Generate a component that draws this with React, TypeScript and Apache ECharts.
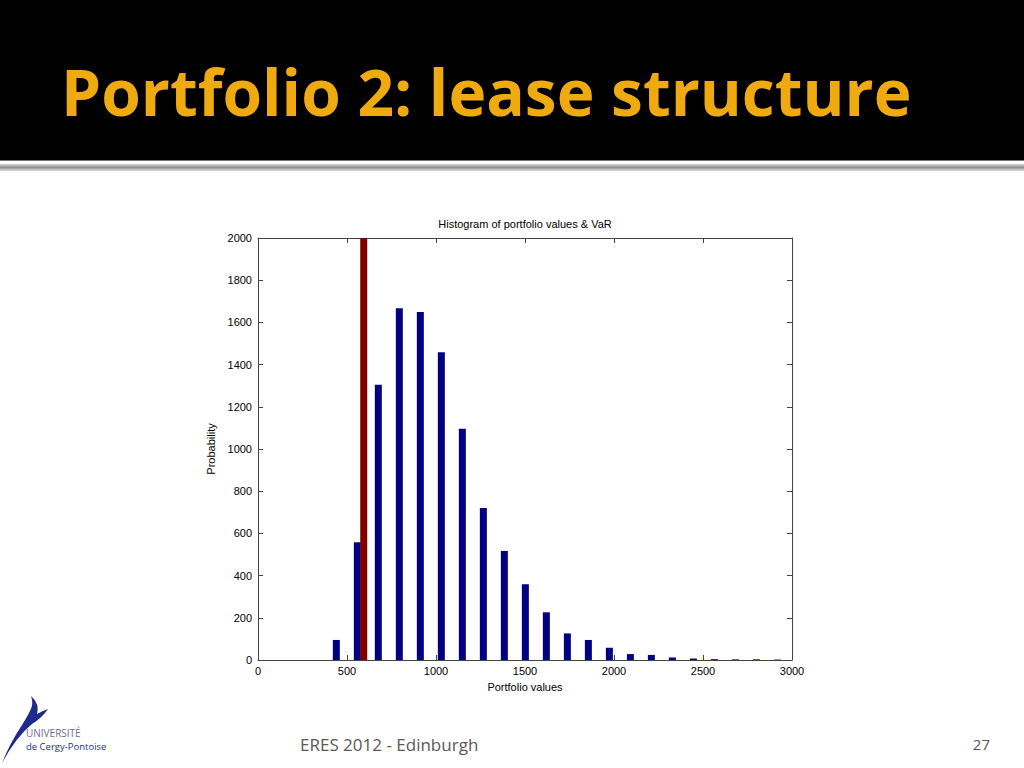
import React, { useEffect, useRef } from "react";
import * as echarts from "echarts";

const binCenters = [440, 558, 676, 794, 912, 1030, 1148, 1266, 1384, 1502, 1620, 1738, 1856, 1974, 2092, 2210, 2328, 2446, 2564, 2682, 2800, 2918];
const binCounts = [95, 558, 1305, 1667, 1649, 1458, 1096, 720, 517, 359, 226, 126, 95, 58, 28, 24, 12, 7, 4, 3, 3, 2];
const varValue = 594;
const varHeight = 2000;

const slideTitle = "Portfolio 2: lease structure";
const chartTitle = "Histogram of portfolio values & VaR";
const xName = "Portfolio values";
const yName = "Probability";
const footerText = "ERES 2012 - Edinburgh";
const pageNumber = "27";

const logoPath =
  "M 2 763 Q 10 743 22 725 Q 27 717 30 711 Q 34 704 31 696 Q 40 704 37 714 Q 42 711 48 709 Q 42 718 32 724 Q 16 737 2 763 Z";

export default function App() {
  const ref = useRef<HTMLDivElement>(null);
  useEffect(() => {
    if (!ref.current) return;
    echarts.graphic.registerShape("logo", echarts.graphic.extendPath(logoPath, {}));
    const chart = echarts.init(ref.current, undefined, { renderer: "svg" });
    const axisFont = { fontFamily: "Liberation Sans", fontSize: 11, color: "#000" };
    const lineStyle = { color: "#444", width: 1 };
    const axisLine = { show: true, onZero: false, lineStyle };
    const axisTick = { show: true, inside: true, length: 5, lineStyle };
    const plain = (v: number) => String(v);
    chart.setOption({
      animation: false,
      backgroundColor: "#fff",
      grid: { left: 258, right: 232, top: 238, bottom: 108, containLabel: false },
      xAxis: [
        {
          type: "value",
          min: 0,
          max: 3000,
          interval: 500,
          position: "bottom",
          axisLine,
          axisTick,
          axisLabel: { ...axisFont, margin: 5, formatter: plain },
          splitLine: { show: false },
          name: xName,
          nameLocation: "middle",
          nameGap: 21,
          nameTextStyle: { ...axisFont },
        },
        {
          type: "value",
          min: 0,
          max: 3000,
          interval: 500,
          position: "top",
          axisLine,
          axisTick,
          axisLabel: { show: false },
          splitLine: { show: false },
        },
      ],
      yAxis: [
        {
          type: "value",
          min: 0,
          max: 2000,
          interval: 200,
          position: "left",
          axisLine,
          axisTick,
          axisLabel: { ...axisFont, margin: 6, formatter: plain },
          splitLine: { show: false },
          name: yName,
          nameLocation: "middle",
          nameGap: 37,
          nameTextStyle: { ...axisFont },
        },
        {
          type: "value",
          min: 0,
          max: 2000,
          interval: 200,
          position: "right",
          axisLine,
          axisTick,
          axisLabel: { show: false },
          splitLine: { show: false },
        },
      ],
      series: [
        {
          type: "bar",
          xAxisIndex: 0,
          yAxisIndex: 0,
          data: binCenters.map((c, i) => [c, binCounts[i]]),
          barWidth: 7,
          barGap: "-100%",
          itemStyle: { color: "#000080" },
        },
        {
          type: "bar",
          xAxisIndex: 0,
          yAxisIndex: 0,
          data: [[varValue, varHeight]],
          barWidth: 7,
          barGap: "-100%",
          itemStyle: { color: "#800000" },
          z: 3,
        },
      ],
      graphic: [
        { type: "rect", shape: { x: 0, y: 0, width: 1024, height: 160 }, style: { fill: "#000" }, z: 0 },
        { type: "rect", shape: { x: 0, y: 160, width: 1024, height: 1 }, style: { fill: "#777" }, z: 0 },
        {
          type: "rect",
          shape: { x: 0, y: 164, width: 1024, height: 7 },
          style: {
            fill: new echarts.graphic.LinearGradient(0, 0, 0, 1, [
              { offset: 0, color: "#d8d8d8" },
              { offset: 0.5, color: "#909090" },
              { offset: 1, color: "#e0e0e0" },
            ]),
          },
          z: 0,
        },
        {
          type: "text",
          x: 61,
          y: 91,
          style: {
            text: slideTitle,
            fill: "#EFAA0F",
            font: "bold 64px 'Open Sans'",
            textVerticalAlign: "middle",
          },
        },
        {
          type: "text",
          x: 525,
          y: 224,
          style: {
            text: chartTitle,
            fill: "#000",
            font: "11px 'Liberation Sans'",
            textAlign: "center",
            textVerticalAlign: "middle",
          },
        },
        {
          type: "text",
          x: 300,
          y: 744,
          style: {
            text: footerText,
            fill: "#595959",
            font: "17px 'Open Sans'",
            textVerticalAlign: "middle",
          },
        },
        {
          type: "text",
          x: 990,
          y: 744,
          style: {
            text: pageNumber,
            fill: "#595959",
            font: "15px 'Open Sans'",
            textAlign: "right",
            textVerticalAlign: "middle",
          },
        },
        { type: "logo", x: 0, y: 0, scaleX: 1, scaleY: 1, style: { fill: "#1f2a8f" } },
        {
          type: "text",
          x: 26,
          y: 733,
          style: {
            text: "UNIVERSITÉ",
            fill: "#6d6d98",
            font: "10px 'Open Sans'",
            textVerticalAlign: "middle",
          },
        },
        {
          type: "text",
          x: 26,
          y: 746,
          style: {
            text: "de Cergy-Pontoise",
            fill: "#26307f",
            font: "9.5px 'Open Sans'",
            textVerticalAlign: "middle",
          },
        },
      ],
    });
    return () => chart.dispose();
  }, []);
  return <div ref={ref} style={{ position: "absolute", left: 0, top: 0, width: 1024, height: 768 }} />;
}
